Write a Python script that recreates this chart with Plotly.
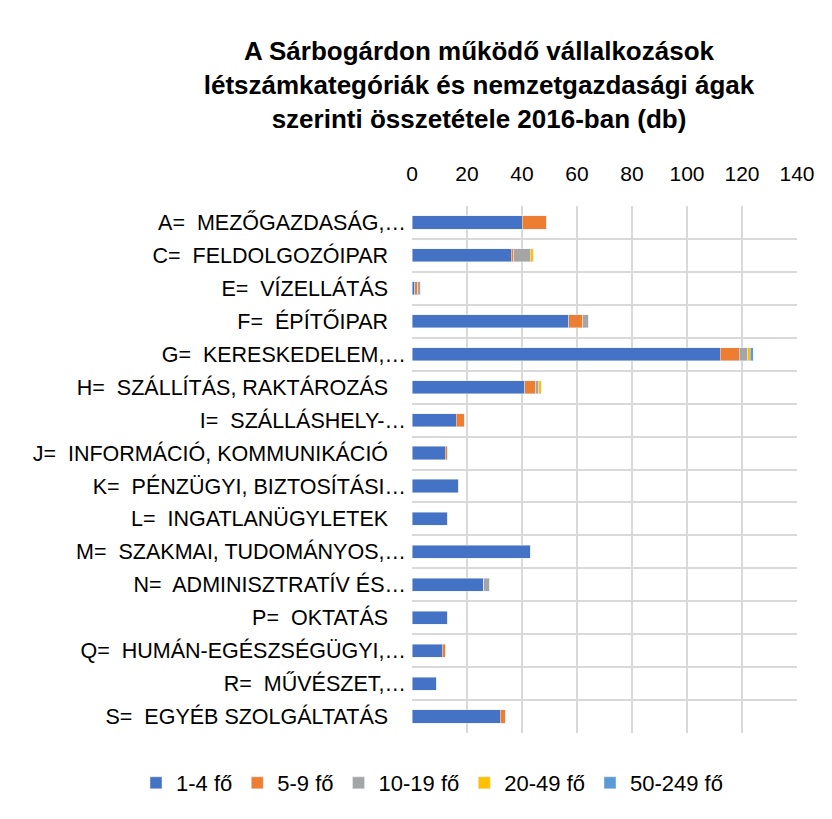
import plotly.graph_objects as go

PAD = "\u00a0\u00a0\u00a0"
categories = [
    "A=\u00a0 MEZŐGAZDASÁG,…",
    "C=\u00a0 FELDOLGOZÓIPAR" + PAD,
    "E=\u00a0 VÍZELLÁTÁS" + PAD,
    "F=\u00a0 ÉPÍTŐIPAR" + PAD,
    "G=\u00a0 KERESKEDELEM,…",
    "H=\u00a0 SZÁLLÍTÁS, RAKTÁROZÁS" + PAD,
    "I=\u00a0 SZÁLLÁSHELY-…",
    "J=\u00a0 INFORMÁCIÓ, KOMMUNIKÁCIÓ" + PAD,
    "K=\u00a0 PÉNZÜGYI, BIZTOSÍTÁSI…",
    "L=\u00a0 INGATLANÜGYLETEK" + PAD,
    "M=\u00a0 SZAKMAI, TUDOMÁNYOS,…",
    "N=\u00a0 ADMINISZTRATÍV ÉS…",
    "P=\u00a0 OKTATÁS" + PAD,
    "Q=\u00a0 HUMÁN-EGÉSZSÉGÜGYI,…",
    "R=\u00a0 MŰVÉSZET,…",
    "S=\u00a0 EGYÉB SZOLGÁLTATÁS" + PAD,
]

series_names = ["1-4 fő", "5-9 fő", "10-19 fő", "20-49 fő", "50-249 fő"]
s_1_4 = [40, 36, 1, 57, 112, 41, 16, 12, 17, 13, 43, 26, 13, 11, 9, 32]
s_5_9 = [9, 1, 1, 5, 7, 4, 3, 1, 0, 0, 0, 0, 0, 1, 0, 2]
s_10_19 = [0, 6, 1, 2, 3, 1, 0, 0, 0, 0, 0, 2, 0, 0, 0, 0]
s_20_49 = [0, 1, 0, 0, 1, 1, 0, 0, 0, 0, 0, 0, 0, 0, 0, 0]
s_50_249 = [0, 0, 0, 0, 1, 0, 0, 0, 0, 0, 0, 0, 0, 0, 0, 0]
series_values = [s_1_4, s_5_9, s_10_19, s_20_49, s_50_249]
colors = ["#4472C4", "#ED7D31", "#A5A5A5", "#FFC000", "#5B9BD5"]

x_ticks = [0, 20, 40, 60, 80, 100, 120, 140]

FONT = "Liberation Sans, Arial, sans-serif"

fig = go.Figure()
for name, vals, col in zip(series_names, series_values, colors):
    fig.add_trace(go.Bar(
        y=categories, x=vals, name=name, orientation="h",
        marker=dict(color=col),
    ))

# page body has an 8px margin: figure occupies page (8..832, 8..819)
OFF = 8
W, H = 832 - OFF, 819 - OFF
ml, mr, mt, mb = 412 - OFF, 35, 206 - OFF, 86
pw = W - ml - mr
ph = H - mt - mb

fig.update_layout(
    width=W, height=H,
    barmode="stack",
    bargap=0.6,
    plot_bgcolor="white",
    paper_bgcolor="white",
    margin=dict(l=ml, r=mr, t=mt, b=mb, pad=0, autoexpand=False),
    font=dict(family=FONT, size=21, color="#000000"),
    title=dict(
        text="A Sárbogárdon működő vállalkozások<br>létszámkategóriák és nemzetgazdasági ágak<br>szerinti összetétele 2016-ban (db)",
        x=471 / W, xanchor="center", xref="container",
        y=1 - 52 / H, yanchor="top", yref="container",
        font=dict(family=FONT, size=26, color="#000000", weight="bold"),
    ),
    legend=dict(
        orientation="h",
        x=((136 - OFF) - ml) / pw, xref="paper", xanchor="left",
        y=-((783 - OFF) - (H - mb)) / ph, yref="paper", yanchor="middle",
        font=dict(family=FONT, size=22),
        traceorder="normal",
        itemwidth=30,
    ),
    showlegend=True,
)

fig.update_xaxes(
    side="top", range=[0, 140], tickvals=x_ticks,
    showgrid=True, gridcolor="#D9D9D9", gridwidth=2,
    zeroline=False, showline=False, ticks="",
    tickfont=dict(family=FONT, size=21),
    ticklabelstandoff=20,
    automargin=False,
    fixedrange=True,
)
fig.update_yaxes(
    type="category", autorange="reversed",
    tickson="boundaries", showgrid=True, gridcolor="#D9D9D9", gridwidth=2,
    ticks="", showline=False, ticklabelstandoff=5,
    tickfont=dict(family=FONT, size=21.5),
    automargin=False,
    fixedrange=True,
)

# right edge of the outer chart frame
xr = (826 - OFF - ml) / pw
fig.add_shape(
    type="line", xref="paper", yref="paper",
    x0=xr, x1=xr, y0=-mb / ph, y1=1 + mt / ph,
    line=dict(color="#D9D9D9", width=1),
    layer="below",
)

fig.write_html("out.html")
